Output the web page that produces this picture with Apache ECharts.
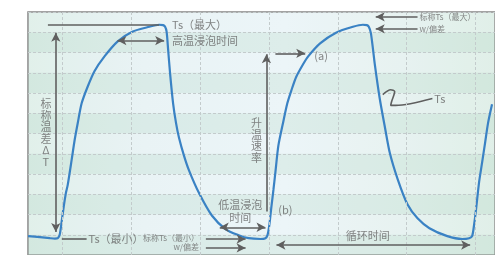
<!DOCTYPE html>
<html><head><meta charset="utf-8">
<script src="https://cdn.jsdelivr.net/npm/echarts@6/dist/echarts.min.js"></script>
<style>html,body{margin:0;padding:0;background:#fff}#c{width:495px;height:255px}</style>
</head><body><div id="c"></div>
<script>
// Temperature profile (time units: one dashed column = 10; temp units: one band = 10)
const curveTime = [0,1.73,3.17,3.9,4.33,4.62,4.91,5.19,5.48,5.77,6.35,6.78,7.22,7.79,8.66,9.67,11.11,12.99,15.15,17.6,19.05,19.62,19.91,20.13,20.35,20.64,21.07,21.5,21.93,22.65,23.38,24.82,26.7,28.72,30.59,32.03,33.77,34.49,34.78,35.06,35.35,35.64,35.93,36.36,37.09,37.66,38.24,38.96,39.97,40.69,42.42,44.73,47.19,48.63,49.21,49.49,49.78,50.07,50.36,51.08,51.8,52.53,53.68,55.12,56.57,58.3,60.89,63.06,64.07,64.5,64.79,65.08,65.51,65.95,66.38,66.81,67.39];
const curveTemp = [9.3,8.8,8.3,8.1,8.3,10.3,17.1,23.9,30.2,34.6,47.2,56.9,65.1,74.9,83.1,90.9,98.1,105.4,110.3,112.7,113.7,113.5,112.7,110.3,101.5,89.4,74.9,65.1,57.9,49.1,41.8,30.7,19.5,12.7,9.8,8.3,7.9,8.3,9.8,15.1,23.9,32.1,40.9,54.0,66.1,74.9,81.2,88.0,94.3,98.1,104.5,109.8,112.7,113.7,113.5,112.7,109.8,102.5,94.3,77.3,63.7,50.6,37.5,24.9,18.1,13.2,9.3,7.9,8.3,9.3,15.1,22.9,36.0,45.7,55.4,65.1,74.4];
const columnTimes = [5,15,25,35,45,55,65];
// annotation arrows: [t1, T1, t2, T2, headAtStart, headAtEnd]
const arrowSegs = [
  [2.89,113.7,19.05,113.7,0,0],
  [12.99,105.9,19.77,105.9,1,1],
  [4.04,109.8,4.04,11.3,1,1],
  [4.91,7.87,8.51,7.87,0,0],
  [25.83,7.87,31.6,7.87,0,1],
  [25.83,3.5,31.6,3.5,0,1],
  [27.85,13.7,34.49,13.7,1,1],
  [34.63,21.45,34.63,99.1,0,1],
  [35.93,99.6,40.26,99.6,0,1],
  [36.08,4.95,64.21,4.95,1,1],
  [56.57,117.6,50.5,117.6,0,1],
  [56.57,111.7,50.5,111.7,0,1]
];
const squiggleTime = [51.52,52.67,53.25,52.81,52.67,53.39,58.73];
const squiggleTemp = [79.2,81.6,80.7,75.8,73.9,73.9,77.3];
// labels: [text, t, T, align, kind]  kind: 0 normal, 1 small, 2 vertical
const labelItems = [
  ['Ts（最大）',20.92,113.7,'left',0],
  ['高温浸泡时间',20.92,105.9,'left',0],
  ['标\n称\n温\n差\nΔ\nT',2.6,60.3,'center',2],
  ['Ts（最小）',8.8,7.87,'left',0],
  ['标称Ts（最小）',24.82,8.35,'right',1],
  ['w/偏差',24.82,3.98,'right',1],
  ['低温浸泡\n时间',30.81,21.45,'center',0],
  ['升\n温\n速\n率',33.19,56.6,'center',2],
  ['(a)',42.57,98.6,'center',0],
  ['(b)',37.37,22.4,'center',0],
  ['循环时间',49.35,9.3,'center',0],
  ['标称Ts（最大）',56.85,117.6,'left',1],
  ['w/偏差',56.85,111.7,'left',1],
  ['Ts',59.0,77.3,'left',0]
];

const FONT = '"Noto Sans CJK SC", "Noto Sans", sans-serif';
const annColor = '#5f5f5f';
const chart = echarts.init(document.getElementById('c'), null, {renderer:'canvas'});
const curveData = curveTime.map((t,i)=>[t, curveTemp[i]]);
const squiggleData = squiggleTime.map((t,i)=>[t, squiggleTemp[i]]);
const arrowData = arrowSegs.map(a=>[
  {coord:[a[0],a[1]], symbol: a[4]?'arrow':'none'},
  {coord:[a[2],a[3]], symbol: a[5]?'arrow':'none'}
]);
const labelData = labelItems.map(l=>({
  value:[l[1],l[2]],
  label:{show:true, formatter:l[0], position:'inside', align:l[3], verticalAlign:'middle',
    fontSize: l[4]===1?8:11, lineHeight: l[4]===1?10:(l[4]===2?11.5:13),
    color: l[4]===1?'#6a6a6a':'#666666', fontFamily: FONT}
}));

chart.setOption({
  animation:false,
  backgroundColor:'#ffffff',
  grid:{left:28, top:12, width:470, height:247.2, show:true,
    borderColor:'#858585', borderWidth:1.5,
    backgroundColor:{type:'linear', x:0, y:0, x2:1, y2:0, colorStops:[
      {offset:0, color:'#ddeee8'},{offset:0.25,color:'#e6f2f4'},{offset:0.55,color:'#eaf4f7'},{offset:0.8,color:'#e4f1ef'},{offset:1,color:'#dcede5'}]}},
  xAxis:{type:'value', min:0, max:67.82, show:true, axisLine:{show:false}, axisTick:{show:false}, axisLabel:{show:false}, splitLine:{show:false}},
  yAxis:{type:'value', min:0, max:120, interval:10, axisLine:{show:false}, axisTick:{show:false}, axisLabel:{show:false},
    splitLine:{show:true, lineStyle:{color:'#c3cbcc', type:[3,2], width:1}},
    splitArea:{show:true, areaStyle:{color:['rgba(185,220,200,0.28)','rgba(255,255,255,0.12)']}}},
  series:[
    {type:'line', data:[], silent:true, z:1,
      markLine:{silent:true, symbol:'none', label:{show:false}, lineStyle:{color:'#c3cbcc', type:[3,2], width:1},
        data: columnTimes.map(t=>({xAxis:t}))}},
    {type:'line', data:curveData, smooth:0.25, showSymbol:false, symbol:'none', z:3,
      lineStyle:{color:'#3a82c4', width:2.2}},
    {type:'line', data:squiggleData, smooth:0.3, showSymbol:false, symbol:'none', z:4,
      lineStyle:{color:annColor, width:1.6}},
    {type:'line', data:[], z:5, silent:true,
      markLine:{silent:true, symbolSize:[7,9], label:{show:false}, lineStyle:{color:annColor, type:'solid', width:1.6},
        data: arrowData}},
    {type:'scatter', data:labelData, symbolSize:0, z:6, silent:true}
  ]
});
</script></body></html>
